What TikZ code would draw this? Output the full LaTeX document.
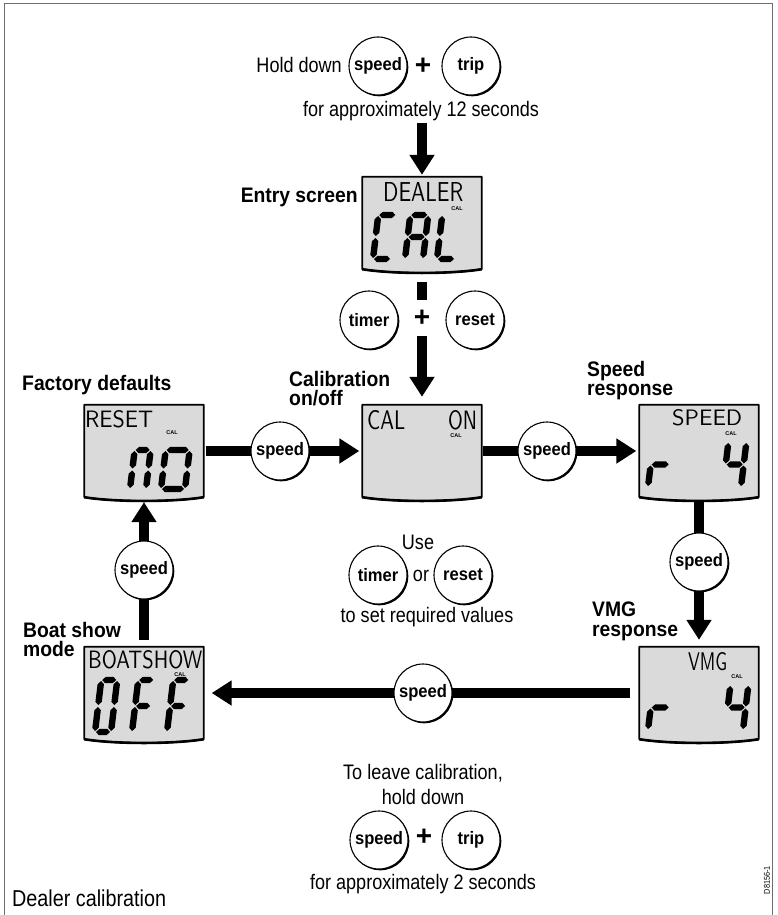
\documentclass[tikz,border=0pt]{standalone}
\usepackage{fontspec}
\usepackage{graphicx}
\setmainfont{Liberation Sans}
\newfontfamily\condf{Liberation Sans}[FakeStretch=0.86]
\newfontfamily\condb{Liberation Sans Bold}[FakeStretch=0.92]
\usetikzlibrary{arrows.meta,shadows}
\pgfdeclarelayer{bg}
\pgfsetlayers{bg,main}
\definecolor{lcdgray}{RGB}{218,218,218}
\definecolor{framegray}{RGB}{110,110,110}
% seven segment helpers
\newcommand\sgt{3.2}
\newcommand\sgg{1.0}
\newcommand\hseg[3]{\fill ({#1},{#3}) -- ({#1+\sgt},{#3+\sgt}) -- ({#2-\sgt},{#3+\sgt}) -- ({#2},{#3}) -- ({#2-\sgt},{#3-\sgt}) -- ({#1+\sgt},{#3-\sgt}) -- cycle;}
\newcommand\vseg[3]{\fill ({#1},{#2}) -- ({#1+\sgt},{#2+\sgt}) -- ({#1+\sgt},{#3-\sgt}) -- ({#1},{#3}) -- ({#1-\sgt},{#3-\sgt}) -- ({#1-\sgt},{#2+\sgt}) -- cycle;}
\expandafter\def\csname sgXa\endcsname{\hseg{\sgg}{\cW-\sgg}{-\cH}}
\expandafter\def\csname sgXg\endcsname{\hseg{\sgg}{\cW-\sgg}{-\cH/2}}
\expandafter\def\csname sgXd\endcsname{\hseg{\sgg}{\cW-\sgg}{0}}
\expandafter\def\csname sgXf\endcsname{\vseg{0}{-\cH+\sgg}{-\cH/2-\sgg}}
\expandafter\def\csname sgXe\endcsname{\vseg{0}{-\cH/2+\sgg}{-\sgg}}
\expandafter\def\csname sgXb\endcsname{\vseg{\cW}{-\cH+\sgg}{-\cH/2-\sgg}}
\expandafter\def\csname sgXc\endcsname{\vseg{\cW}{-\cH/2+\sgg}{-\sgg}}
\newcommand\sdigit[5]{\begin{scope}[shift={(#1,#2)},xslant=0.12]\def\cW{#3}\def\cH{#4}\foreach \s in {#5}{\csname sgX\s\endcsname}\end{scope}}
\newcommand\lcdtxt[3]{\resizebox{#1pt}{#2pt}{\sffamily #3}}
\newcommand\lcdframe[1]{%
  \draw[lcdline] (#1.south west) -- (#1.north west) -- (#1.north east) -- (#1.south east)
     .. controls ([shift={(-30,5)}]#1.south east) and ([shift={(30,5)}]#1.south west) .. (#1.south west) -- cycle;
  \draw[line width=2.6pt] (#1.south east) .. controls ([shift={(-30,5)}]#1.south east) and ([shift={(30,5)}]#1.south west) .. (#1.south west);}
\begin{document}
\begin{tikzpicture}[x=1pt,y=-1pt,
  conn/.style={line width=10pt, -{Triangle[width=24pt,length=20pt]}},
  lcdbox/.style={minimum width=119pt, minimum height=92pt, inner sep=0pt},
  lcdline/.style={draw=black, line width=1.8pt, fill=lcdgray, line join=round},
  btn/.style={circle, draw, line width=1.1pt, fill=white, minimum size=58pt, inner sep=0pt,
     font=\condb\fontsize{18}{18}\selectfont,
     drop shadow={shadow xshift=1.3pt, shadow yshift=-1.3pt, opacity=1, fill=black}},
  plus/.style={font=\fontsize{28}{28}\selectfont\bfseries, inner sep=0pt},
  txt/.style={font=\condf\fontsize{21}{25}\selectfont, inner sep=1pt},
  lbl/.style={font=\condb\fontsize{21}{19.5}\selectfont, inner sep=0pt, align=left, anchor=north west},
  tiny/.style={font=\fontsize{5.5}{6}\selectfont\bfseries, inner sep=0pt},
  seg/.style={inner sep=0pt, anchor=base west}]
\useasboundingbox (0,0) rectangle (778,915);
\draw[framegray, line width=1pt] (4,915) -- (4,4) -- (772,4) -- (772,915);

% ---------- top instruction ----------
\node[txt, anchor=base east] (hold) at (343,73) {Hold down};
\node[btn] (bspeedA) at (378,66) {speed};
\node[plus] (plusA) at (423,66) {+};
\node[btn] (btripA) at (471,66) {trip};
\node[txt, anchor=base] (fa12) at (421,117) {for approximately 12 seconds};

% ---------- LCD screens ----------
\node[lcdbox] (entry) at (422,223) {};
\node[lcdbox] (calon) at (422,451) {};
\node[lcdbox] (factory) at (144,451) {};
\node[lcdbox] (speedr) at (699,451) {};
\node[lcdbox] (vmg) at (699,693) {};
\node[lcdbox] (boat) at (144,693) {};
\foreach \n in {entry,calon,factory,speedr,vmg,boat}{\lcdframe{\n}}

% entry screen content
\node[seg] (tDealer) at (383,201) {\lcdtxt{80}{19}{DEALER}};
\node[tiny] (cEntry) at (457,209) {CAL};
\sdigit{373}{259}{18}{44}{a,d,e,f}
\sdigit{405}{259}{18}{44}{a,b,c,e,f,g}
\sdigit{437}{259}{18}{44}{d,e,f}

% cal on/off content
\node[seg] (tCal) at (367,429) {\lcdtxt{38}{19}{CAL}};
\node[seg] (tOn) at (448,429) {\lcdtxt{29}{19}{ON}};
\node[tiny] (cCalon) at (456,436) {CAL};

% factory content
\node[seg] (tReset) at (85,427) {\lcdtxt{68}{17}{RESET}};
\node[tiny] (cFact) at (172,433) {CAL};
\sdigit{130}{489}{16}{39}{a,b,c,e,f}
\sdigit{161}{489}{24}{39}{a,b,c,d,e,f}

% speed response content
\node[seg] (tSpeed) at (672,425) {\lcdtxt{70}{16}{SPEED}};
\node[tiny] (cSpeed) at (731,434) {CAL};
\sdigit{648}{487}{19}{45}{e,g}
\sdigit{723}{487}{18}{45}{b,c,f,g}

% vmg content
\node[seg] (tVmg) at (688,670) {\lcdtxt{39}{18}{VMG}};
\node[tiny] (cVmg) at (737,677) {CAL};
\sdigit{648}{730}{19}{45}{e,g}
\sdigit{725}{730}{18}{45}{b,c,f,g}

% boat show content
\node[seg] (tBoat) at (88,668) {\lcdtxt{114}{18}{BOATSHOW}};
\node[tiny] (cBoat) at (180,675) {CAL};
\sdigit{95}{732}{16}{52}{a,b,c,d,e,f}
\sdigit{132}{732}{16}{52}{a,e,f,g}
\sdigit{167}{732}{16}{52}{a,e,f,g}

% ---------- labels ----------
\node[anchor=base east, font=\condb\fontsize{21}{21}\selectfont, inner sep=0pt] (lEntry) at (358,202) {Entry screen};
\node[lbl] (lCal) at (289,371) {Calibration\\on/off};
\node[lbl] (lFact) at (22,375) {Factory defaults};
\node[lbl] (lSpeed) at (587,361) {Speed\\response};
\node[lbl] (lBoat) at (23,622) {Boat show\\mode};
\node[lbl] (lVmg) at (592,602) {VMG\\response};

% ---------- buttons on the loop ----------
\node[btn] (bTimer) at (369,320) {timer};
\node[plus, fill=white, minimum width=18pt, minimum height=36pt] (plusB) at (422,318) {+};
\node[btn] (bReset) at (475,320) {reset};
\node[btn] (s1) at (280,451) {speed};
\node[btn] (s2) at (547,451) {speed};
\node[btn] (s3) at (699,562) {speed};
\node[btn] (s4) at (423,693) {speed};
\node[btn] (s5) at (144,570) {speed};

% ---------- middle instruction ----------
\node[txt, anchor=base] (use) at (418,549) {Use};
\node[btn] (bTimerM) at (378,575) {timer};
\node[txt, anchor=base] (orw) at (421,581) {or};
\node[btn] (bResetM) at (463,575) {reset};
\node[txt, anchor=base] (setv) at (427,622) {to set required values};

% ---------- bottom instruction ----------
\node[txt, anchor=north, align=center] (leave) at (423,763) {To leave calibration,\\hold down};
\node[btn] (bspeedB) at (379,840) {speed};
\node[plus] (plusC) at (424,837) {+};
\node[btn] (btripB) at (471,840) {trip};
\node[txt, anchor=base] (fa2) at (423,889) {for approximately 2 seconds};

\node[anchor=base west, font=\condf\fontsize{23}{23}\selectfont, inner sep=0pt] (title) at (12,906) {Dealer calibration};
\node[rotate=90, font=\condf\fontsize{8.5}{8.5}\selectfont, inner sep=0pt] (code) at (767,880) {D8156-1};

% ---------- connectors ----------
\begin{pgfonlayer}{bg}
\draw[conn, shorten >=2pt] (fa12.south -| entry.north) -- (entry.north);
\draw[conn, shorten <=13pt, shorten >=8pt] (entry.south) -- (calon.north);
\draw[conn, shorten <=2pt, shorten >=3pt] (factory.east) -- (calon.west);
\draw[conn, shorten <=1pt, shorten >=3pt] (calon.east) -- (speedr.west);
\draw[conn, shorten <=5pt, shorten >=7pt] (speedr.south) -- (vmg.north);
\draw[conn, shorten <=9pt, shorten >=8pt] (vmg.west) -- (boat.east);
\draw[conn, shorten <=7pt, shorten >=5pt] (boat.north) -- (factory.south);
\end{pgfonlayer}
\end{tikzpicture}
\end{document}
